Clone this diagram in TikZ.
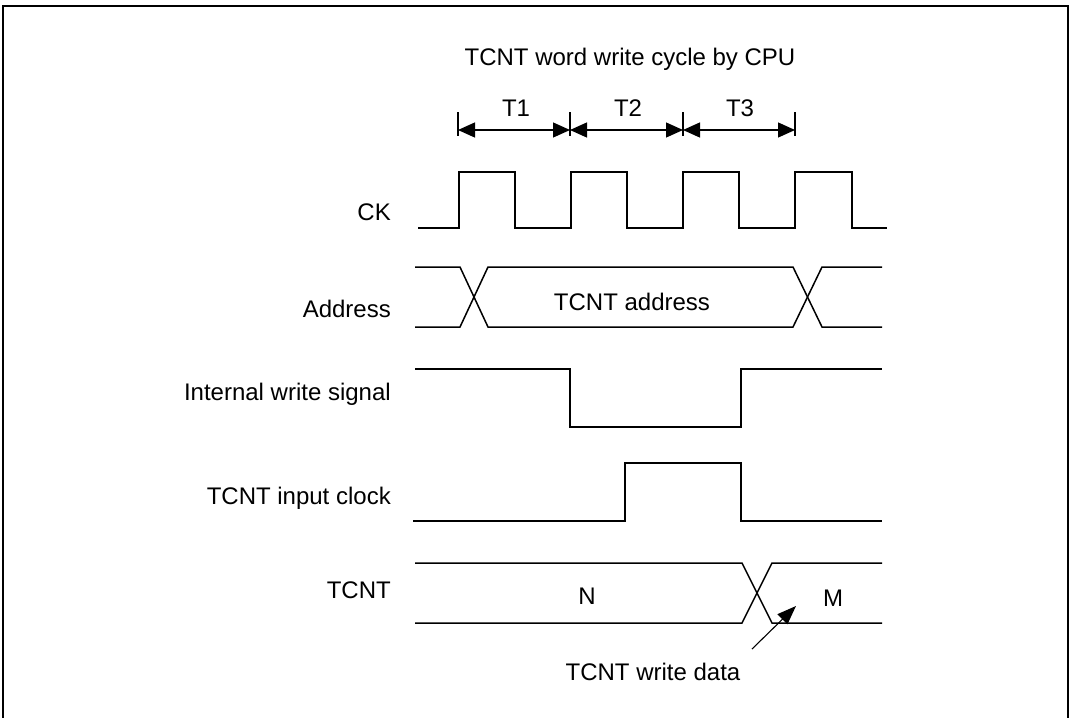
\documentclass[tikz,border=0pt]{standalone}
\usepackage{fontspec}
\setmainfont{Liberation Sans}
\usetikzlibrary{arrows.meta}
\begin{document}
\begin{tikzpicture}[x=1pt,y=-1pt,
  sig/.style={line width=1.5pt, line join=miter},
  lbl/.style={font=\fontsize{24}{28}\selectfont, inner sep=0pt, anchor=base},
  rlbl/.style={lbl, anchor=base east},
  tick/.style={line width=1.2pt},
  dim/.style={line width=1.3pt, {Triangle[length=17pt,width=15pt]}-{Triangle[length=17pt,width=15pt]}},
  pointer/.style={line width=1.1pt, -{Triangle[length=19pt,width=14pt]}}
]
\useasboundingbox (0,0) rectangle (1072,718);
% frame
\draw[line width=2.5pt] (3,718) -- (3,6) -- (1068,6) -- (1068,718);

% title
\node[lbl] (title) at (630,65) {TCNT word write cycle by CPU};

% dimension ticks and arrows
\foreach \n/\x in {0/458,1/570,2/683,3/795}{
  \coordinate (ta\n) at (\x,112);
  \coordinate (tb\n) at (\x,136);
  \coordinate (d\n) at (\x,130);
  \draw[tick] (ta\n) -- (tb\n);
}
\draw[dim] (d0) -- (d1);
\draw[dim] (d1) -- (d2);
\draw[dim] (d2) -- (d3);
\node[lbl] (T1) at (516,116) {T1};
\node[lbl] (T2) at (628,116) {T2};
\node[lbl] (T3) at (740,116) {T3};

% labels
\node[rlbl] (lck)   at (391,220.5) {CK};
\node[rlbl] (ladr)  at (391,317) {Address};
\node[rlbl] (lwr)   at (391,400) {Internal write signal};
\node[rlbl] (lclk)  at (391,504) {TCNT input clock};
\node[rlbl] (ltcnt) at (391,598) {TCNT};

% CK
\draw[sig] (418,228) -- (459,228) -- (459,172) -- (515,172) -- (515,228)
  -- (571,228) -- (571,172) -- (627,172) -- (627,228)
  -- (683,228) -- (683,172) -- (739,172) -- (739,228)
  -- (795,228) -- (795,172) -- (852,172) -- (852,228) -- (887,228);

% Address bus
\draw[sig] (415,267) -- (460,267) -- (488,327) -- (793,327) -- (822,267) -- (882,267);
\draw[sig] (415,327) -- (460,327) -- (488,267) -- (793,267) -- (822,327) -- (882,327);
\node[lbl] (adr) at (632,310) {TCNT address};

% Internal write signal
\draw[sig] (415,369) -- (570,369) -- (570,427) -- (741,427) -- (741,369) -- (882,369);

% TCNT input clock
\draw[sig] (413,521) -- (625,521) -- (625,463) -- (741,463) -- (741,521) -- (882,521);

% TCNT
\draw[sig] (415,563) -- (742,563) -- (772,623) -- (882,623);
\draw[sig] (415,623) -- (742,623) -- (772,563) -- (882,563);
\node[lbl] (N) at (587,604) {N};
\node[lbl] (M) at (833,606) {M};

% write data pointer
\coordinate (wd0) at (752,649);
\coordinate (wd1) at (796,606);
\draw[pointer] (wd0) -- (wd1);
\node[lbl] (wdata) at (653,680) {TCNT write data};
\end{tikzpicture}
\end{document}
